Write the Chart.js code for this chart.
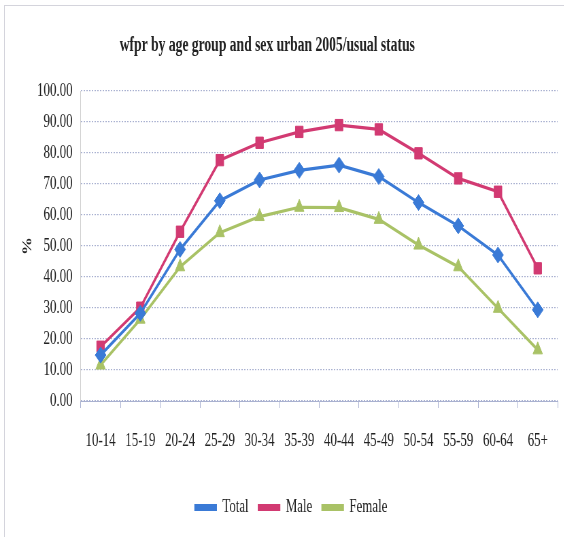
<!DOCTYPE html>
<html>
<head>
<meta charset="utf-8">
<script src="https://cdn.jsdelivr.net/npm/chart.js@4/dist/chart.umd.min.js"></script>
<style>
  html, body { margin: 0; padding: 0; background: #fff; overflow: hidden; }
  body { width: 564px; height: 537px; position: relative; }
  #frame { position: absolute; left: 4px; top: 5px; right: 0; bottom: 0;
           border-left: 1px solid #d4d4dc; border-top: 1px solid #d4d4dc; }
  /* chart is laid out wide and compressed horizontally into the window */
  #wrap { position: absolute; left: 0; top: 0; width: 829px; height: 537px;
          transform: scaleX(0.68); transform-origin: 0 0; }
</style>
</head>
<body>
<div id="frame"></div>
<div id="wrap"><canvas id="c"></canvas></div>
<script>
const ageGroups = ['10-14','15-19','20-24','25-29','30-34','35-39','40-44','45-49','50-54','55-59','60-64','65+'];
const totalWfpr  = [14.8, 28.3, 48.9, 64.6, 71.3, 74.4, 76.1, 72.4, 64.0, 56.5, 47.1, 29.4];
const maleWfpr   = [17.5, 30.1, 54.6, 77.7, 83.3, 86.8, 89.0, 87.6, 79.9, 71.8, 67.5, 42.8];
const femaleWfpr = [11.6, 26.4, 43.3, 54.3, 59.5, 62.5, 62.4, 58.6, 50.3, 43.3, 29.9, 16.5];
const chartTitle = 'wfpr by age group and sex urban 2005/usual status';

const serif = '"Liberation Serif", "DejaVu Serif", serif';
const gridColor = '#a9b1d0';
const textColor = '#222222';

const titlePlugin = {
  id: 'sideTitle',
  afterDraw(chart) {
    const ctx = chart.ctx;
    ctx.save();
    ctx.font = 'bold 20px ' + serif;
    ctx.fillStyle = textColor;
    ctx.textAlign = 'center';
    ctx.textBaseline = 'middle';
    ctx.fillText(chartTitle, 393, 46);
    ctx.restore();
  }
};

function series(label, data, color, style, radius) {
  return {
    label, data,
    borderColor: color, backgroundColor: color,
    borderWidth: 3.2,
    pointStyle: style, pointRadius: radius, pointHoverRadius: radius,
    pointBorderWidth: 1, pointBorderColor: color, pointBackgroundColor: color,
    tension: 0
  };
}

new Chart(document.getElementById('c'), {
  type: 'line',
  data: {
    labels: ageGroups,
    datasets: [
      series('Total', totalWfpr, '#3a7ad6', 'rectRot', 8),
      series('Male', maleWfpr, '#d23a72', 'rect', 8),
      series('Female', femaleWfpr, '#a9c266', 'triangle', 8)
    ]
  },
  options: {
    responsive: true,
    maintainAspectRatio: false,
    animation: false,
    layout: { padding: { left: 28, right: 0, top: 91, bottom: 10 } },
    plugins: {
      title: { display: false },
      tooltip: { enabled: false },
      legend: {
        position: 'bottom',
        labels: {
          font: { family: serif, size: 19 },
          color: textColor,
          boxWidth: 30, boxHeight: 4,
          padding: 15
        }
      }
    },
    scales: {
      x: {
        offset: true,
        afterFit(s) { s.height = 82; },
        grid: { offset: true, drawOnChartArea: false, drawTicks: true, tickLength: 7, color: gridColor },
        border: { color: gridColor },
        ticks: { font: { family: serif, size: 19 }, color: textColor, padding: 22, maxRotation: 0, autoSkip: false }
      },
      y: {
        min: 0, max: 100,
        afterFit(s) { s.width = 90.7; },
        grid: { color: gridColor, drawTicks: false, lineWidth: 1.2 },
        border: { color: '#cfcfcf', dash: [2, 2] },
        title: { display: true, text: '%', font: { family: serif, size: 18, weight: 'bold' }, color: textColor, padding: { top: 3, bottom: 0 } },
        ticks: {
          stepSize: 10, padding: 12,
          font: { family: serif, size: 19 }, color: textColor,
          callback: v => Number(v).toFixed(2)
        }
      }
    }
  },
  plugins: [titlePlugin]
});
</script>
</body>
</html>
